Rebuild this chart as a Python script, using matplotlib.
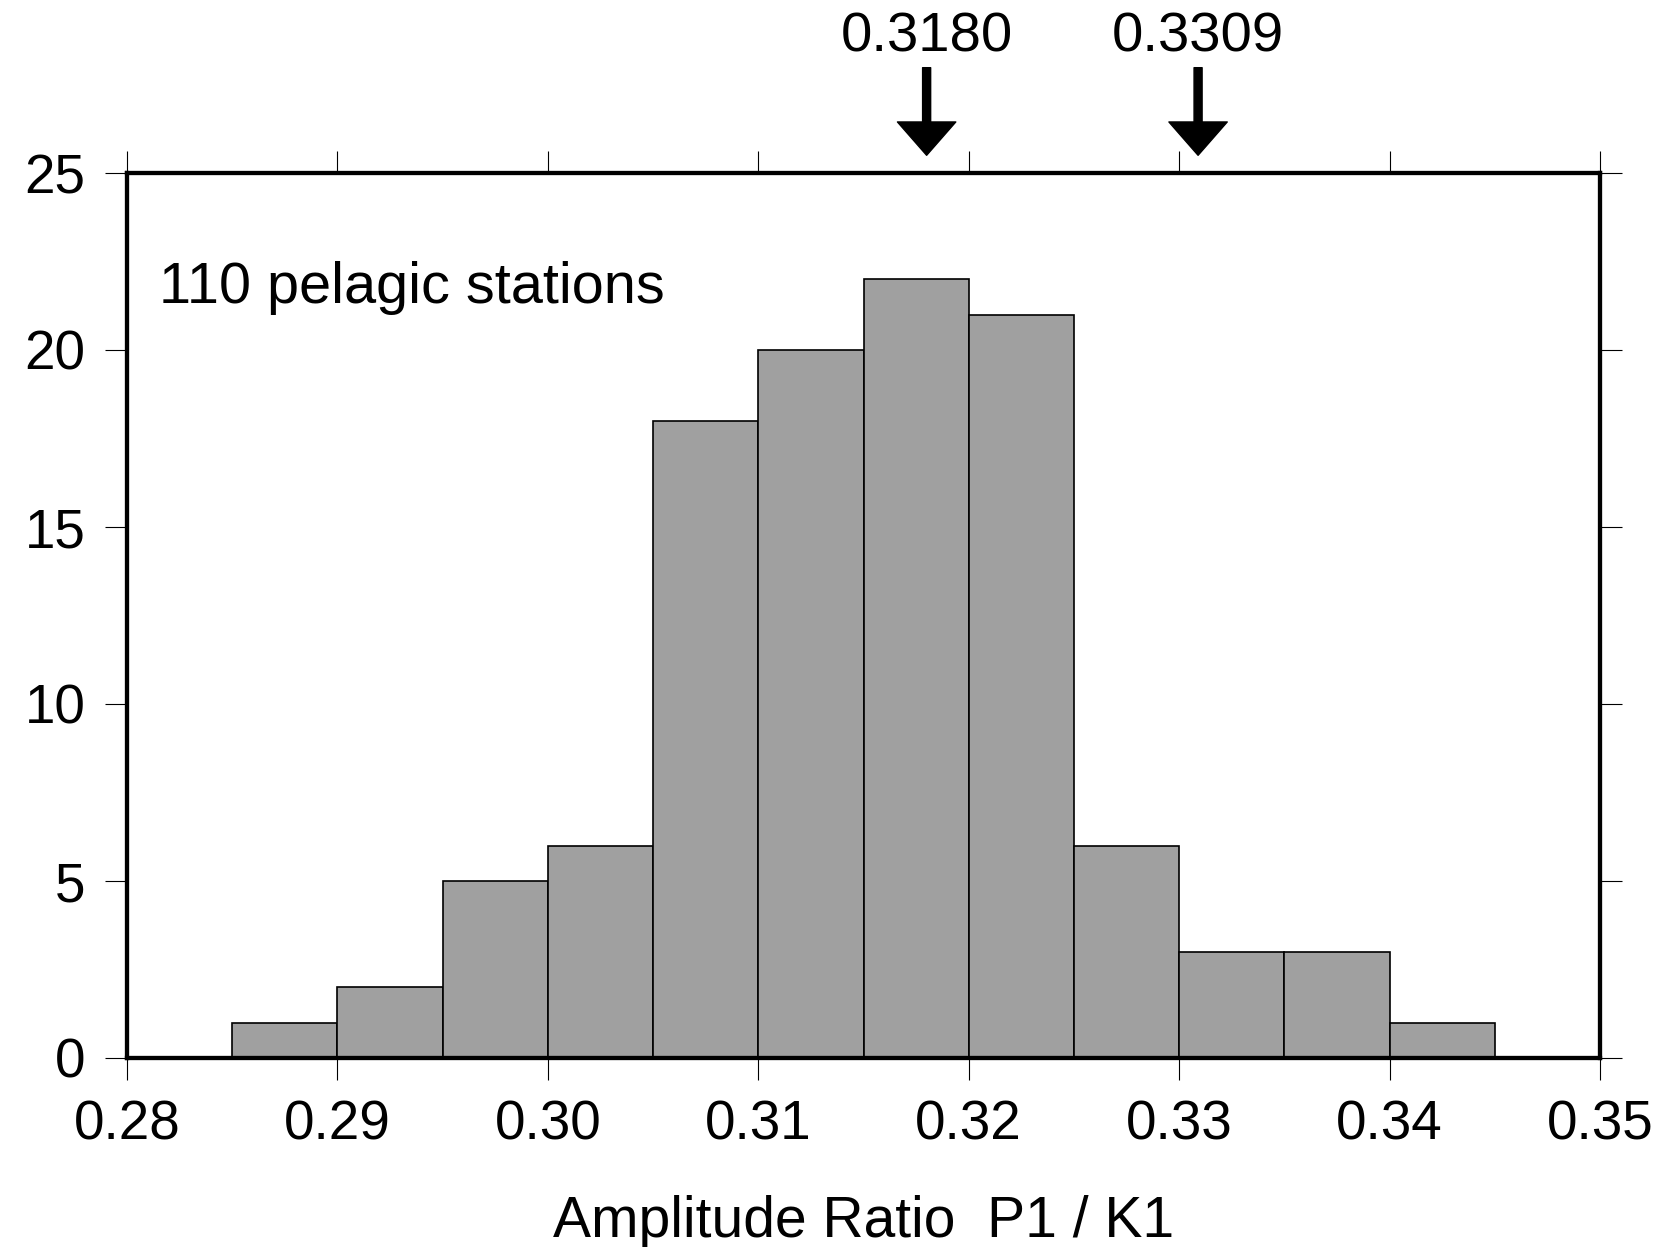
import matplotlib
matplotlib.use("Agg")
import matplotlib.pyplot as plt

plt.rcParams['font.family'] = ['Liberation Sans', 'DejaVu Sans']

# histogram bins (left edges) and station counts
bin_left = [0.285, 0.290, 0.295, 0.300, 0.305, 0.310, 0.315, 0.320, 0.325, 0.330, 0.335, 0.340]
counts = [1, 2, 5, 6, 18, 20, 22, 21, 6, 3, 3, 1]
bin_width = 0.005

# marked values above the frame
marks = [0.3180, 0.3309]
mark_labels = ['0.3180', '0.3309']

x_ticks = [0.28, 0.29, 0.30, 0.31, 0.32, 0.33, 0.34, 0.35]
x_ticklabels = ['0.28', '0.29', '0.30', '0.31', '0.32', '0.33', '0.34', '0.35']
y_ticks = [0, 5, 10, 15, 20, 25]

fig = plt.figure(figsize=(16.63, 12.47), dpi=100)
ax = fig.add_axes([127/1663, 1 - 1058/1247, (1600-127)/1663, (1058-173)/1247])

ax.bar(bin_left, counts, width=bin_width, align='edge',
       facecolor='#a0a0a0', edgecolor='black', linewidth=1.2, zorder=2)

ax.set_xlim(0.28, 0.35)
ax.set_ylim(0, 25)
ax.set_xticks(x_ticks)
ax.set_xticklabels(x_ticklabels)
ax.set_yticks(y_ticks)

for s in ax.spines.values():
    s.set_linewidth(3.1)
    s.set_zorder(3)

ax.tick_params(axis='both', which='both', direction='out', length=16, width=0.8,
               labelsize=39.5, top=True, right=True, labeltop=False, labelright=False)
ax.tick_params(axis='x', pad=14)
ax.tick_params(axis='y', pad=14)

ax.set_xlabel('Amplitude Ratio  P1 / K1', fontsize=41, labelpad=31)

ax.text(0.022, 0.87, '110 pelagic stations', transform=ax.transAxes,
        fontsize=41.5, ha='left', va='center')

for m, lab in zip(marks, mark_labels):
    ax.annotate('', xy=(m, 1.020), xytext=(m, 1.119),
                xycoords=('data', 'axes fraction'), textcoords=('data', 'axes fraction'),
                arrowprops=dict(width=5.8, headwidth=42, headlength=24,
                                facecolor='black', edgecolor='black', shrink=0),
                annotation_clip=False)
    ax.text(m, 1.137, lab, transform=ax.get_xaxis_transform(),
            fontsize=40.5, ha='center', va='baseline')

fig.savefig('out.png', dpi=100)
